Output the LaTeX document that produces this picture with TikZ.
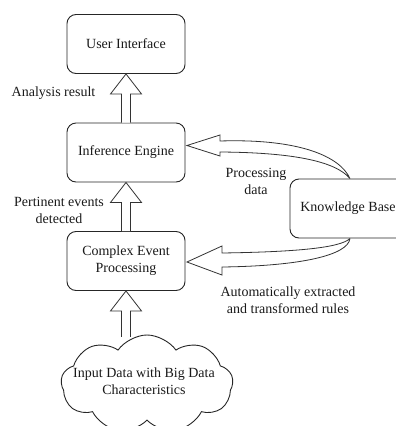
\documentclass[tikz,border=0pt]{standalone}
\usepackage{fontspec}
\setmainfont{Liberation Serif}
\usetikzlibrary{shapes.symbols,calc}
\newcommand\vblockarrow[2]{% #1 = tip, #2 = tail
  \draw[barrow] ($(#2)+(-4.5,0)$) -- ($(#1)+(-4.5,20)$) -- ($(#1)+(-15.5,20)$) -- (#1)
    -- ($(#1)+(15.5,20)$) -- ($(#1)+(4.5,20)$) -- ($(#2)+(4.5,0)$);}
\begin{document}
\begin{tikzpicture}[x=1pt,y=-1pt,
  txt/.style={font=\fontsize{14}{17}\selectfont, text=black!90, align=center},
  box/.style={txt, draw=black!85, line width=0.9pt, rounded corners=9pt,
    minimum width=118pt, minimum height=59pt, inner sep=0pt},
  lbl/.style={txt, inner sep=0pt},
  barrow/.style={draw=black!80, line width=0.8pt, fill=white, line join=miter},
  cloudshape/.style={cloud, draw=black!85, line width=0.9pt, cloud puffs=9,
    cloud puff arc=110, cloud ignores aspect, minimum width=172pt, minimum height=98pt}]
\useasboundingbox (0,0) rectangle (396,426);
\clip (0,0) rectangle (396,426);
% nodes
\node[box] (ui) at (126,44) {User Interface};
\node[box] (ie) at (126,152.5) {Inference Engine};
\node[box] (cep) at (126,261) {Complex Event\\Processing};
\node[box, minimum width=116pt] (kb) at (348,208.5) {Knowledge Base};
\node[cloudshape] (input) at (147,384) {};
\node[lbl] (inputtxt) at (144,381) {Input Data with Big Data\\Characteristics};
\coordinate (cloudtop) at ($(cep.south)+(0,46)$);
% vertical block arrows
\vblockarrow{ui.south}{ie.north}
\vblockarrow{ie.south}{cep.north}
\vblockarrow{cep.south}{cloudtop}
% curved block arrows
\coordinate (kbtop) at ($(kb.north)+(2,0)$);
\coordinate (tipA) at ($(ie.east)+(1.5,-7)$);
\draw[barrow] (kbtop) .. controls ($(kbtop)+(-10,-22)$) and ($(tipA)+(113,-7)$) ..
  ($(tipA)+(33,-4.5)$) -- ($(tipA)+(33,-10.5)$) -- (tipA) -- ($(tipA)+(33,10.5)$)
  -- ($(tipA)+(33,6.5)$) .. controls ($(tipA)+(103,7)$) and ($(kbtop)+(-15,-18)$) .. (kbtop);
\coordinate (kbbot) at ($(kb.south)+(2,0)$);
\coordinate (tipB) at ($(cep.east)+(1.5,1)$);
\draw[barrow] (kbbot) .. controls ($(kbbot)+(-10,10)$) and ($(tipB)+(103,-10)$) ..
  ($(tipB)+(35,-9)$) -- ($(tipB)+(35,-16)$) -- (tipB) -- ($(tipB)+(35,13)$)
  -- ($(tipB)+(35,5)$) .. controls ($(tipB)+(113,4)$) and ($(kbbot)+(-2,17)$) .. (kbbot);
% labels
\node[lbl] (l1) at (53.5,93) {Analysis result};
\node[lbl] (l2) at (59,210) {Pertinent events\\detected};
\node[lbl] (l3) at (256,181) {Processing\\data};
\node[lbl] (l4) at (288,300) {Automatically extracted\\and transformed rules};
\end{tikzpicture}
\end{document}
